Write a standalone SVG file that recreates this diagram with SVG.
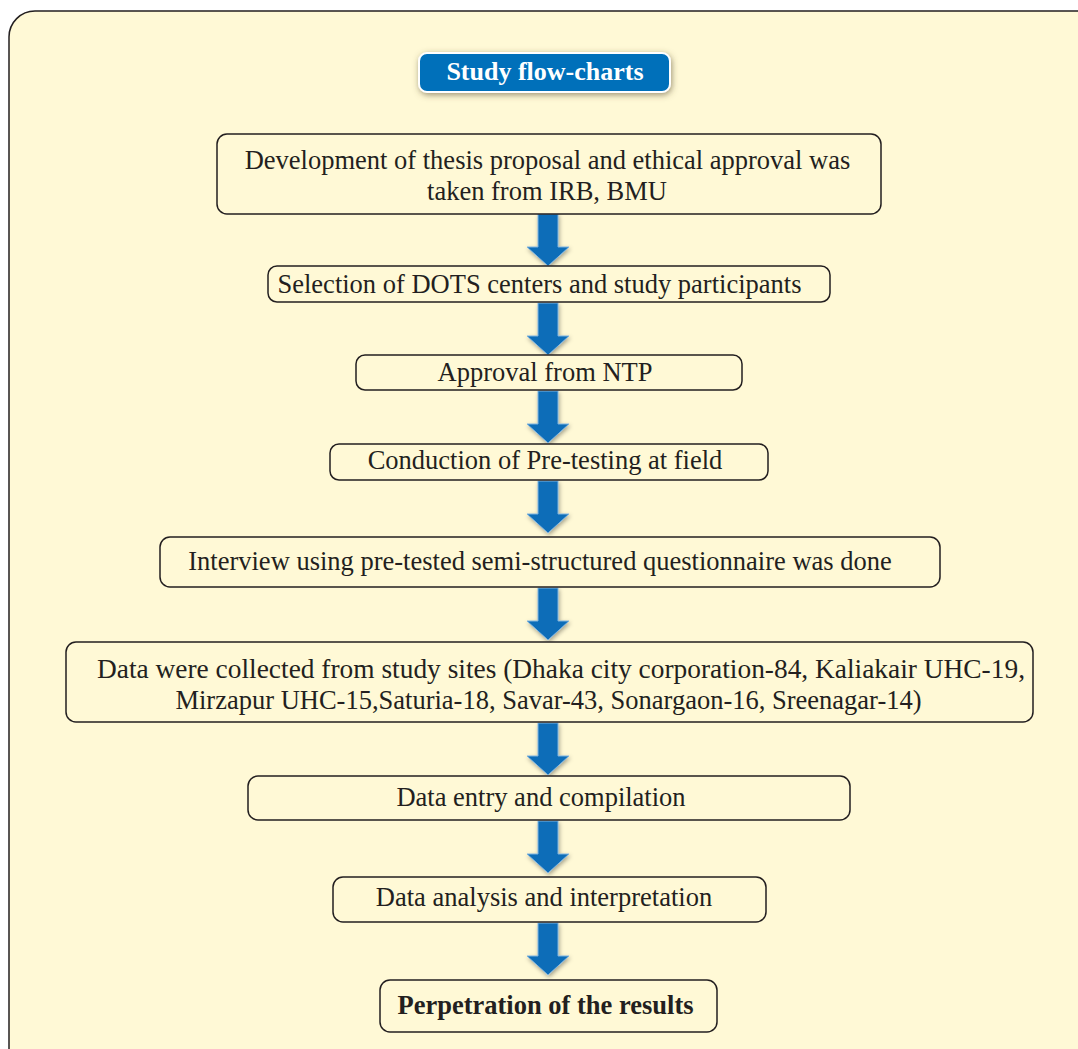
<svg xmlns="http://www.w3.org/2000/svg" width="1078" height="1049" viewBox="0 0 1078 1049">
<defs>
<style>
.box{fill:#FFF9D6;stroke:#231F20;stroke-width:1.5}
.t{font-family:"Liberation Serif","Times New Roman",serif;font-size:26.5px;fill:#231F20;text-anchor:middle}
.b{font-weight:bold}
.arr{fill:#0B6DB8;stroke:#7FB3DE;stroke-width:1;filter:url(#sh)}
</style>
<filter id="sh" x="-50%" y="-50%" width="200%" height="200%">
<feDropShadow dx="1" dy="2" stdDeviation="2" flood-color="#000" flood-opacity="0.35"/>
</filter>
<filter id="tsh" x="-20%" y="-50%" width="140%" height="200%">
<feDropShadow dx="1" dy="2" stdDeviation="3" flood-color="#5a5030" flood-opacity="0.6"/>
</filter>
<g id="arrowShape">
<polygon class="arr" points="-10,0 10,0 10,33 21,33 0,52 -21,33 -10,33"/>
</g>
</defs>
<rect x="0" y="0" width="1078" height="1049" fill="#ffffff"/>
<rect id="panel" x="9" y="11" width="1100" height="1070" rx="26" ry="26" fill="#FFF9D6" stroke="#231F20" stroke-width="1.5"/>

<g id="title">
<rect x="419" y="53" width="251" height="39" rx="8" ry="8" fill="#0070BA" stroke="#ffffff" stroke-width="2" filter="url(#tsh)"/>
<text class="t b" x="545" y="80" style="fill:#ffffff;font-size:26px">Study flow-charts</text>
</g>

<g id="connectors">
<use href="#arrowShape" x="548" y="214"/>
<use href="#arrowShape" x="548" y="303"/>
<use href="#arrowShape" x="548" y="391"/>
<use href="#arrowShape" x="548" y="481"/>
<use href="#arrowShape" x="548" y="588"/>
<use href="#arrowShape" x="548" y="723"/>
<use href="#arrowShape" x="548" y="821"/>
<use href="#arrowShape" x="548" y="923"/>
</g>

<g id="n1">
<rect class="box" x="217" y="134" width="664" height="80" rx="10"/>
<text class="t" x="547.5" y="169">Development of thesis proposal and ethical approval was</text>
<text class="t" x="547" y="200">taken from IRB, BMU</text>
</g>
<g id="n2">
<rect class="box" x="268" y="266" width="562" height="36" rx="9"/>
<text class="t" x="539.5" y="293">Selection of DOTS centers and study participants</text>
</g>
<g id="n3">
<rect class="box" x="356" y="355" width="386" height="35" rx="9"/>
<text class="t" x="545" y="381">Approval from NTP</text>
</g>
<g id="n4">
<rect class="box" x="330" y="444" width="438" height="36" rx="9"/>
<text class="t" x="545" y="469">Conduction of Pre-testing at field</text>
</g>
<g id="n5">
<rect class="box" x="160" y="537" width="780" height="50" rx="10"/>
<text class="t" x="540" y="570">Interview using pre-tested semi-structured questionnaire was done</text>
</g>
<g id="n6">
<rect class="box" x="66" y="642" width="967" height="80" rx="10"/>
<text class="t" x="561" y="678" textLength="928" lengthAdjust="spacingAndGlyphs">Data were collected from study sites (Dhaka city corporation-84, Kaliakair UHC-19,</text>
<text class="t" x="548.5" y="709">Mirzapur UHC-15,Saturia-18, Savar-43, Sonargaon-16, Sreenagar-14)</text>
</g>
<g id="n7">
<rect class="box" x="248" y="776" width="602" height="44" rx="10"/>
<text class="t" x="541" y="806">Data entry and compilation</text>
</g>
<g id="n8">
<rect class="box" x="333" y="877" width="433" height="45" rx="10"/>
<text class="t" x="544" y="906">Data analysis and interpretation</text>
</g>
<g id="n9">
<rect class="box" x="380" y="980" width="337" height="52" rx="10"/>
<text class="t b" x="545.5" y="1014">Perpetration of the results</text>
</g>
</svg>
